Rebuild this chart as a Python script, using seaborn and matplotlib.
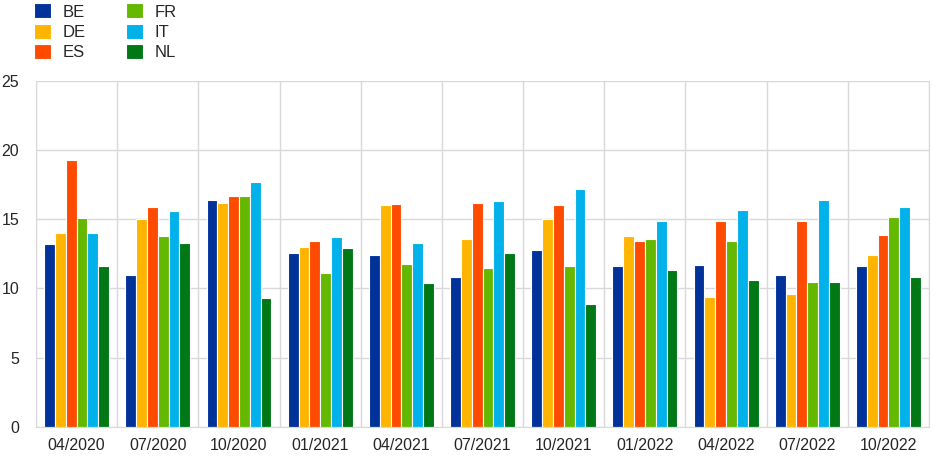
import pandas as pd
import seaborn as sns
import matplotlib.pyplot as plt
from matplotlib.ticker import FixedLocator

dates = ['04/2020', '07/2020', '10/2020', '01/2021', '04/2021', '07/2021',
         '10/2021', '01/2022', '04/2022', '07/2022', '10/2022']
countries = ['BE', 'DE', 'ES', 'FR', 'IT', 'NL']

be = [13.2, 11.0, 16.4, 12.6, 12.4, 10.8, 12.8, 11.6, 11.7, 11.0, 11.6]
de = [14.0, 15.0, 16.2, 13.0, 16.0, 13.6, 15.0, 13.8, 9.4, 9.6, 12.4]
es = [19.3, 15.9, 16.7, 13.4, 16.1, 16.2, 16.0, 13.4, 14.9, 14.9, 13.9]
fr = [15.1, 13.8, 16.7, 11.1, 11.8, 11.5, 11.6, 13.6, 13.4, 10.5, 15.2]
it = [14.0, 15.6, 17.7, 13.7, 13.3, 16.3, 17.2, 14.9, 15.7, 16.4, 15.9]
nl = [11.6, 13.3, 9.3, 12.9, 10.4, 12.6, 8.9, 11.3, 10.6, 10.5, 10.8]

colors = ['#003299', '#ffb400', '#ff4b00', '#65b800', '#00b1ea', '#007816']

rows = []
for c, vals in zip(countries, [be, de, es, fr, it, nl]):
    for d, v in zip(dates, vals):
        rows.append([d, c, v])
df = pd.DataFrame(rows, columns=['date', 'country', 'value'])

sns.set_style('white')
plt.rcParams['font.family'] = ['Liberation Sans', 'DejaVu Sans']

fig = plt.figure(figsize=(9.48, 4.65), dpi=100)
ax = fig.add_axes([0.038, 0.082, 0.942, 0.744])

sns.barplot(data=df, x='date', y='value', hue='country', order=dates,
            hue_order=countries, palette=colors, width=0.8, saturation=1,
            edgecolor='white', linewidth=0.8, ax=ax, legend=True)

ax.set_ylim(0, 25)
ax.set_xlim(-0.5, len(dates) - 0.5)
ax.set_yticks([0, 5, 10, 15, 20, 25])
ax.yaxis.grid(True, color='#d9d9d9', linewidth=1)
ax.xaxis.set_minor_locator(FixedLocator([i - 0.5 for i in range(len(dates) + 1)]))
ax.xaxis.grid(True, which='minor', color='#d9d9d9', linewidth=1)
ax.set_axisbelow(True)
for s in ax.spines.values():
    s.set_color('#d9d9d9')
ax.spines['top'].set_visible(False)
ax.set_xlabel('')
ax.set_ylabel('')
ax.tick_params(axis='both', which='both', length=0, labelsize=11.5, pad=8)
ax.tick_params(axis='y', pad=12)

handles, labels = ax.get_legend_handles_labels()
ax.get_legend().remove()
fig.legend(handles, labels, loc='upper left', bbox_to_anchor=(0.02, 1.025),
           ncol=2, frameon=False, fontsize=12, handlelength=1.0,
           handleheight=1.0, handletextpad=0.7, columnspacing=2.45,
           labelspacing=0.25)

plt.savefig('out.png', dpi=100)
